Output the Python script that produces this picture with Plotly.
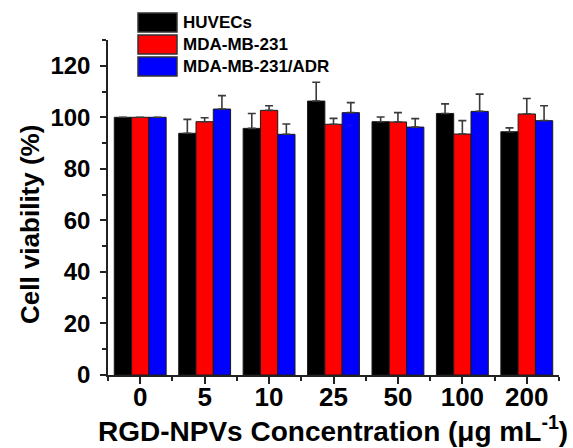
import plotly.graph_objects as go

# Cell viability after RGD-NPVs treatment
concentrations = ["0", "5", "10", "25", "50", "100", "200"]

huvec = [100, 93.8, 95.7, 106.3, 98.3, 101.5, 94.4]
huvec_err = [0, 5.4, 5.8, 7.3, 1.8, 3.7, 1.5]

mda = [100, 98.3, 102.7, 97.3, 98.2, 93.5, 101.3]
mda_err = [0, 1.5, 1.8, 2.3, 3.6, 5.2, 6.0]

adr = [100, 103.2, 93.4, 101.8, 96.2, 102.3, 98.7]
adr_err = [0, 5.2, 4.0, 3.9, 3.3, 6.7, 5.8]

series_names = ["HUVECs", "MDA-MB-231", "MDA-MB-231/ADR"]
series_colors = ["#000000", "#ff0000", "#0000ff"]

x_title = "<b>RGD-NPVs Concentration (μg mL<sup>-1</sup>)</b>"
y_title = "<b>Cell viability (%)</b>"

x_pos = list(range(len(concentrations)))

W, H = 573, 448
L, R, T, B = 108, 14, 40, 73
FONT = "Liberation Sans, Arial, Helvetica, sans-serif"

fig = go.Figure()
for name, vals, errs, color in zip(series_names, [huvec, mda, adr],
                                   [huvec_err, mda_err, adr_err], series_colors):
    fig.add_trace(go.Bar(
        x=x_pos, y=vals, name=name, showlegend=False,
        marker=dict(color=color, line=dict(color="#1a1a1a", width=1)),
        error_y=dict(type="data", array=errs, arrayminus=[0] * len(errs),
                     symmetric=False, color="#3a3a3a", thickness=1.6, width=4),
    ))

# pixel -> paper helpers for the hand-placed legend and titles
pw, ph = W - L - R, H - T - B
def px_x(px):
    return (px - L) / pw
def px_y(py):
    return (H - B - py) / ph

shapes, annotations = [], []
box_x0, box_x1 = 138, 177
for i, (name, color) in enumerate(zip(series_names, series_colors)):
    y0 = 13 + i * 22
    y1 = y0 + 19
    shapes.append(dict(type="rect", xref="paper", yref="paper",
                       x0=px_x(box_x0), x1=px_x(box_x1),
                       y0=px_y(y1), y1=px_y(y0),
                       fillcolor=color, line=dict(color="#333333", width=1.5)))
    annotations.append(dict(xref="paper", yref="paper", x=px_x(181), y=px_y((y0 + y1) / 2),
                            text=f"<b>{name}</b>", showarrow=False,
                            xanchor="left", yanchor="middle",
                            font=dict(family=FONT, size=17, color="#000000")))

# axis titles
annotations.append(dict(xref="paper", yref="paper", x=px_x(333), y=px_y(449),
                        text=x_title, showarrow=False, xanchor="center", yanchor="bottom",
                        font=dict(family=FONT, size=28, color="#000000")))
annotations.append(dict(xref="paper", yref="paper", x=px_x(30), y=px_y(225),
                        text=y_title, showarrow=False, textangle=-90,
                        xanchor="center", yanchor="middle",
                        font=dict(family=FONT, size=26, color="#000000")))

fig.update_layout(
    width=W, height=H,
    margin=dict(l=L, r=R, t=T, b=B, pad=0),
    paper_bgcolor="white", plot_bgcolor="white",
    barmode="group", bargap=0.195, bargroupgap=0,
    font=dict(family=FONT, color="#000000"),
    shapes=shapes, annotations=annotations,
    xaxis=dict(
        range=[-0.5, 6.5], tickmode="array", tickvals=x_pos,
        ticktext=[f"<b>{c}</b>" for c in concentrations],
        ticks="outside", ticklen=7, tickwidth=1.5, tickcolor="#222222",
        minor=dict(tickvals=[i - 0.5 for i in range(len(concentrations) + 1)],
                   ticks="outside", ticklen=4, tickwidth=1.5, tickcolor="#222222",
                   showgrid=False),
        showline=True, linecolor="#222222", linewidth=1.5,
        showgrid=False, zeroline=False, automargin=False,
        ticklabelstandoff=-9,
        tickfont=dict(family=FONT, size=26, color="#000000"),
    ),
    yaxis=dict(
        range=[0, 130], tick0=0, dtick=20,
        ticks="outside", ticklen=6, tickwidth=1.5, tickcolor="#222222",
        minor=dict(tick0=0, dtick=10, ticks="outside", ticklen=4, tickwidth=1.5,
                   tickcolor="#222222", showgrid=False),
        showline=True, linecolor="#222222", linewidth=1.5,
        showgrid=False, zeroline=False, automargin=False,
        ticklabelstandoff=5,
        tickfont=dict(family=FONT, size=24, color="#000000", weight="bold"),
    ),
)

fig.write_html("out.html")
